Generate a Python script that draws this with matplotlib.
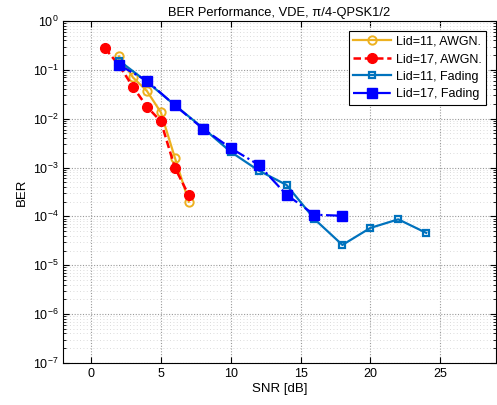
#!/usr/bin/env python3
"""BER performance plot, VDE pi/4-QPSK 1/2"""

import numpy as np
import matplotlib
matplotlib.use('Agg')
import matplotlib.pyplot as plt
from matplotlib.ticker import LogLocator, NullFormatter, FixedLocator

##########################################################
snr_awgn11 = [2, 3, 4, 5, 6, 7]
ber_awgn11 = [0.19, 0.07, 0.037, 0.0135, 0.0016, 0.0002]

snr_awgn17 = [1, 2, 3, 4, 5, 6, 7]
ber_awgn17 = [0.277, 0.125, 0.045, 0.0177, 0.0088, 0.001, 0.00027]

snr_fad11 = [2, 4, 6, 8, 10, 12, 14, 16, 18, 20, 22, 24]
ber_fad11 = [0.155, 0.057, 0.019, 0.0065, 0.0021, 0.00087, 0.00044,
             8.8e-5, 2.6e-5, 5.8e-5, 8.7e-5, 4.6e-5]

snr_fad17 = [2, 4, 6, 8, 10, 12, 14, 16, 18]
ber_fad17 = [0.126, 0.06, 0.0188, 0.0063, 0.0025, 0.00114, 0.000277,
             0.000108, 0.000103]

labels = ['Lid=11, AWGN.', 'Lid=17, AWGN.', 'Lid=11, Fading', 'Lid=17, Fading']

##########################################################
def main():
    plt.rcParams['font.family'] = ['Liberation Sans', 'DejaVu Sans']
    fig = plt.figure(figsize=(4.97, 4.05), dpi=100)
    ax = fig.add_axes([0.127, 0.104, 0.871, 0.844])

    ax.semilogy(snr_awgn11, ber_awgn11, '-o', color='#EDB120', lw=1.6,
                ms=6, mfc='none', mew=1.4, label=labels[0])
    ax.semilogy(snr_awgn17, ber_awgn17, '--o', color='#FF0000', lw=1.8,
                ms=7, mfc='#FF0000', label=labels[1], dashes=(3, 1.5))
    ax.semilogy(snr_fad11, ber_fad11, '-s', color='#0072BD', lw=1.6,
                ms=5, mfc='none', mew=1.6, label=labels[2])
    ax.semilogy(snr_fad17, ber_fad17, '-.s', color='#0000FF', lw=1.6,
                ms=6.5, mfc='#0000FF', label=labels[3])

    ax.set_xlim(-2, 29)
    ax.set_ylim(1e-7, 1)
    ax.xaxis.set_major_locator(FixedLocator([0, 5, 10, 15, 20, 25]))
    ax.yaxis.set_major_locator(FixedLocator([10.0 ** k for k in range(-7, 1)]))
    ax.yaxis.set_minor_locator(LogLocator(base=10, subs=np.arange(2, 10), numticks=20))
    ax.yaxis.set_minor_formatter(NullFormatter())

    ax.grid(True, which='major', color='#999999', lw=0.8, dashes=(1, 1.5))
    ax.grid(True, which='minor', axis='y', color='#cfcfcf', lw=0.6,
            dashes=(1, 3))
    ax.tick_params(which='both', direction='in', top=True, right=True,
                   labelsize=9)
    ax.tick_params(which='major', length=4)
    ax.tick_params(which='minor', length=2)
    for s in ax.spines.values():
        s.set_linewidth(0.8)

    ax.set_xlabel('SNR [dB]', fontsize=9.5, labelpad=2)
    ax.set_ylabel('BER', fontsize=9.5, labelpad=3)
    ax.set_title('BER Performance, VDE, π/4-QPSK1/2', fontsize=9.3, pad=4)

    leg = ax.legend(loc='upper right', fontsize=9, fancybox=False,
                    edgecolor='black', framealpha=1, handlelength=3,
                    borderpad=0.35, labelspacing=0.45, handletextpad=0.4,
                    borderaxespad=0.8)
    leg.get_frame().set_linewidth(0.8)

    fig.savefig('out.png', dpi=100)

##########################################################
if __name__ == "__main__":
    main()
